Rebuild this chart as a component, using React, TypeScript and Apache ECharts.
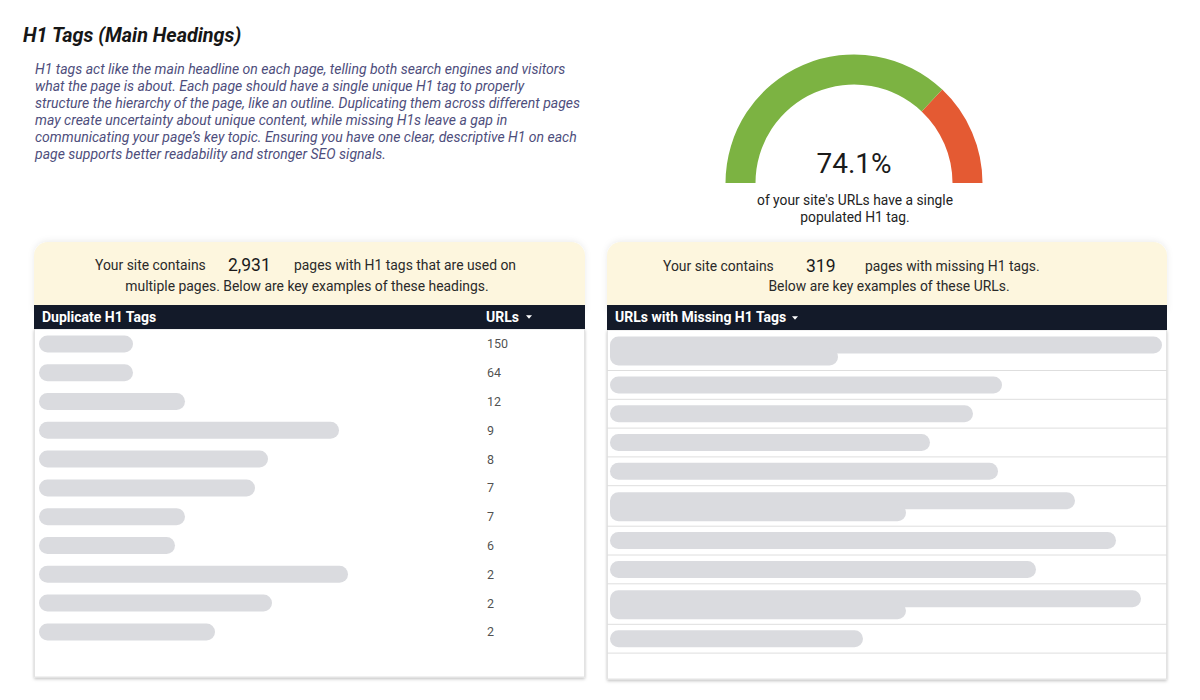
import React, { useEffect, useRef } from "react";
import * as echarts from "echarts";

// ---------- data ----------
const pageTitle = "H1 Tags (Main Headings)";
const descriptionLines = [
  "H1 tags act like the main headline on each page, telling both search engines and visitors",
  "what the page is about. Each page should have a single unique H1 tag to properly",
  "structure the hierarchy of the page, like an outline. Duplicating them across different pages",
  "may create uncertainty about unique content, while missing H1s leave a gap in",
  "communicating your page\u2019s key topic. Ensuring you have one clear, descriptive H1 on each",
  "page supports better readability and stronger SEO signals.",
];
const singleH1Pct = 74.1;
const gaugeCaption = ["of your site's URLs have a single", "populated H1 tag."];
const duplicatePages = 2931;
const missingPages = 319;

const dupRowIds = ["d1", "d2", "d3", "d4", "d5", "d6", "d7", "d8", "d9", "d10", "d11"];
// widths of the blurred (anonymised) heading placeholders
const dupPlaceholderWidths = [94, 94, 146, 300, 229, 216, 146, 136, 309, 233, 176];
const dupUrlCounts = [150, 64, 12, 9, 8, 7, 7, 6, 2, 2, 2];

// blurred URL placeholders: first line width, second line width (0 = single line)
const missingLine1Widths = [552, 392, 363, 320, 388, 465, 506, 426, 531, 253];
const missingLine2Widths = [228, 0, 0, 0, 0, 296, 0, 0, 296, 0];

// ---------- styles ----------
const FONT = "Roboto, 'Noto Sans', sans-serif";
const GREEN = "#7cb342";
const RED = "#e45a33";
const HEADER_BG = "#131a29";
const YELLOW = "#fdf6de";
const PLACEHOLDER = "#dadbdf";
const ROWLINE = "#dedede";
const ONE_LINE_H = 28.8;
const TWO_LINE_H = 40.5;

const missingRowHeights = missingLine2Widths.map((w) => (w > 0 ? TWO_LINE_H : ONE_LINE_H));
const missingRowTops: number[] = [];
missingRowHeights.reduce((acc, h) => {
  missingRowTops.push(acc);
  return acc + h;
}, 0);

function buildOption(): any {
  const graphic: any[] = [];
  const txt = (text: string, x: number, y: number, font: string, fill: string, align = "left") => ({
    type: "text",
    silent: true,
    z: 10,
    style: { text, x, y, font, fill, textAlign: align, textVerticalAlign: "middle" },
  });

  graphic.push(txt(pageTitle, 23, 35, `italic bold 19.8px ${FONT}`, "#161616"));
  descriptionLines.forEach((l, i) =>
    graphic.push(txt(l, 35, 69 + 17 * i, `italic 14px ${FONT}`, "#4e4e7c"))
  );
  gaugeCaption.forEach((l, i) => graphic.push(txt(l, 855, 200 + 16.5 * i, `13.8px ${FONT}`, "#222", "center")));

  const panel = (x: number, w: number, bodyTop: number, bodyBottom: number) => {
    graphic.push({
      type: "rect",
      silent: true,
      z: 1,
      shape: { x, y: 242, width: w, height: 70, r: [14, 14, 0, 0] },
      style: { fill: YELLOW, shadowBlur: 6, shadowColor: "rgba(0,0,0,0.08)", shadowOffsetY: -1 },
    });
    graphic.push({
      type: "rect",
      silent: true,
      z: 2,
      shape: { x: x + 0.5, y: bodyTop, width: w - 1, height: bodyBottom - bodyTop },
      style: {
        fill: "#fff",
        stroke: "#e3e3e3",
        lineWidth: 1,
        shadowBlur: 3,
        shadowOffsetY: 1.5,
        shadowColor: "rgba(0,0,0,0.25)",
      },
    });
    graphic.push({
      type: "rect",
      silent: true,
      z: 3,
      shape: { x, y: 305, width: w, height: bodyTop - 305 },
      style: { fill: HEADER_BG },
    });
  };
  const arrow = (x: number, y: number) => ({
    type: "polygon",
    silent: true,
    z: 10,
    shape: { points: [[x - 3, y - 1.8], [x + 3, y - 1.8], [x, y + 1.8]] },
    style: { fill: "#fff" },
  });

  const body = `13.9px ${FONT}`;
  // left panel
  panel(34, 551, 329, 677);
  graphic.push(txt("Your site contains", 95, 265, body, "#2a2a2a"));
  graphic.push(txt(duplicatePages.toLocaleString("en-US"), 228, 265, `17.5px ${FONT}`, "#1a1a1a"));
  graphic.push(txt("pages with H1 tags that are used on", 294, 265, body, "#2a2a2a"));
  graphic.push(
    txt("multiple pages. Below are key examples of these headings.", 307, 286, body, "#2a2a2a", "center")
  );
  graphic.push(txt("Duplicate H1 Tags", 42, 317, `bold 14px ${FONT}`, "#fff"));
  graphic.push(txt("URLs", 486, 317, `bold 14px ${FONT}`, "#fff"));
  graphic.push(arrow(529, 317));

  // right panel
  panel(607, 560, 330, 679);
  graphic.push(txt("Your site contains", 663, 266, body, "#2a2a2a"));
  graphic.push(txt(String(missingPages), 806, 266, `17.5px ${FONT}`, "#1a1a1a"));
  graphic.push(txt("pages with missing H1 tags.", 865, 266, body, "#2a2a2a"));
  graphic.push(txt("Below are key examples of these URLs.", 889, 286, body, "#2a2a2a", "center"));
  graphic.push(txt("URLs with Missing H1 Tags", 615, 317, `bold 14px ${FONT}`, "#fff"));
  graphic.push(arrow(795, 318));

  const totalMissingH = 679 - 330;

  return {
    animation: false,
    backgroundColor: "#ffffff",
    textStyle: { fontFamily: FONT },
    graphic,
    grid: [
      { left: 34, top: 329.5, width: 551, height: ONE_LINE_H * dupRowIds.length, containLabel: false },
      { left: 607, top: 330, width: 560, height: totalMissingH, containLabel: false },
    ],
    xAxis: [
      { type: "value", gridIndex: 0, min: -5, max: 546, show: false },
      { type: "value", gridIndex: 1, min: -3, max: 557, show: false },
    ],
    yAxis: [
      {
        type: "category",
        gridIndex: 0,
        data: dupRowIds,
        inverse: true,
        axisLine: { show: false },
        axisTick: { show: false },
        axisLabel: { show: false },
        splitLine: { show: true, lineStyle: { color: ROWLINE, width: 1 } },
      },
      { type: "value", gridIndex: 1, min: 0, max: totalMissingH, inverse: true, show: false },
    ],
    series: [
      {
        type: "gauge",
        center: [854, 183],
        radius: 128.5,
        startAngle: 180,
        endAngle: 0,
        min: 0,
        max: 100,
        axisLine: {
          roundCap: false,
          lineStyle: {
            width: 30,
            color: [
              [singleH1Pct / 100, GREEN],
              [1, RED],
            ],
          },
        },
        pointer: { show: false },
        progress: { show: false },
        axisTick: { show: false },
        splitLine: { show: false },
        axisLabel: { show: false },
        anchor: { show: false },
        title: { show: false },
        detail: {
          valueAnimation: false,
          formatter: (v: number) => `${v.toFixed(1)}%`,
          offsetCenter: [0, -20],
          fontSize: 28,
          fontWeight: "normal",
          fontFamily: FONT,
          color: "#1b1b1b",
        },
        data: [{ value: singleH1Pct }],
      },
      {
        type: "bar",
        xAxisIndex: 0,
        yAxisIndex: 0,
        barWidth: 17,
        silent: true,
        itemStyle: { color: PLACEHOLDER, borderRadius: 8.5 },
        data: dupPlaceholderWidths,
        z: 5,
      },
      {
        type: "scatter",
        xAxisIndex: 0,
        yAxisIndex: 0,
        symbolSize: 0,
        silent: true,
        data: dupUrlCounts.map((c, i) => [448, i, c]),
        label: {
          show: true,
          position: "right",
          distance: 0,
          formatter: (p: any) => String(p.value[2]),
          fontSize: 12.5,
          fontFamily: FONT,
          color: "#222",
        },
        z: 6,
      },
      {
        type: "custom",
        xAxisIndex: 1,
        yAxisIndex: 1,
        silent: true,
        z: 5,
        data: missingLine1Widths.map((w, i) => [i, w, missingLine2Widths[i]]),
        renderItem: (_params: any, api: any) => {
          const i = api.value(0);
          const w1 = api.value(1);
          const w2 = api.value(2);
          const top = missingRowTops[i];
          const h = missingRowHeights[i];
          const pTop = api.coord([0, top]);
          const x0 = pTop[0];
          const y0 = pTop[1];
          const rowBottom = api.coord([0, top + h])[1];
          const lineStart = api.coord([-3, 0])[0];
          const lineEnd = api.coord([557, 0])[0];
          const x1 = api.coord([w1, 0])[0];
          const children: any[] = [];
          const barH = 17;
          if (w2 > 0) {
            const x2 = api.coord([w2, 0])[0];
            children.push({
              type: "rect",
              shape: { x: x0, y: y0 + 6.5, width: x1 - x0, height: barH, r: [8.5, 8.5, 8.5, 0] },
              style: { fill: PLACEHOLDER },
            });
            children.push({
              type: "rect",
              shape: { x: x0, y: y0 + 18.5, width: x2 - x0, height: barH, r: [0, 8.5, 8.5, 8.5] },
              style: { fill: PLACEHOLDER },
            });
          } else {
            children.push({
              type: "rect",
              shape: { x: x0, y: (y0 + rowBottom) / 2 - barH / 2, width: x1 - x0, height: barH, r: 8.5 },
              style: { fill: PLACEHOLDER },
            });
          }
          children.push({
            type: "line",
            shape: { x1: lineStart, y1: rowBottom, x2: lineEnd, y2: rowBottom },
            style: { stroke: ROWLINE, lineWidth: 1 },
          });
          return { type: "group", children };
        },
      },
    ],
  };
}

export default function App() {
  const ref = useRef<HTMLDivElement>(null);
  useEffect(() => {
    if (!ref.current) return;
    const chart = echarts.init(ref.current, null, { renderer: "svg" });
    chart.setOption(buildOption());
    return () => chart.dispose();
  }, []);
  return (
    <div
      ref={ref}
      style={{ position: "fixed", left: 0, top: 0, width: 1200, height: 700, background: "#fff" }}
    />
  );
}
